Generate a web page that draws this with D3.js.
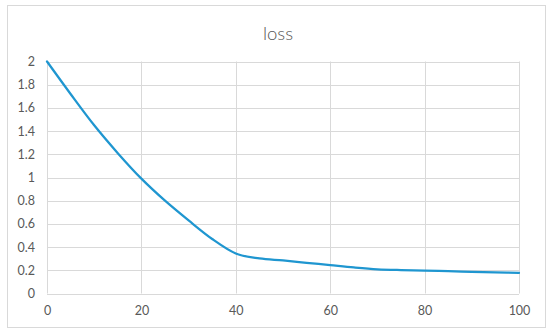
<!DOCTYPE html>
<html>
<head>
<meta charset="utf-8">
<script src="https://cdn.jsdelivr.net/npm/d3@7"></script>
<style>
  body { margin: 0; background: #fff; }
  text { font-family: Lato, "Open Sans", sans-serif; fill: #595959; }
</style>
</head>
<body>
<div id="chart"></div>
<script>
// loss values, every 5 epochs
const epochs = [0, 5, 10, 15, 20, 25, 30, 35, 40, 45, 50, 55, 60, 65, 70, 75, 80, 85, 90, 95, 100];
const loss = [2.0, 1.72, 1.45, 1.21, 0.99, 0.80, 0.63, 0.47, 0.345, 0.302, 0.285, 0.265, 0.245, 0.225, 0.209, 0.202, 0.198, 0.192, 0.187, 0.182, 0.177];
const xTicks = [0, 20, 40, 60, 80, 100];
const yTicks = [0, 0.2, 0.4, 0.6, 0.8, 1, 1.2, 1.4, 1.6, 1.8, 2];

const width = 550, height = 335;
const margin = { top: 61.5, right: 31, bottom: 41.5, left: 47 };

const svg = d3.select('#chart')
  .append('svg')
  .attr('width', width)
  .attr('height', height);

// chart area border
svg.append('rect')
  .attr('x', 7.5).attr('y', 5.5)
  .attr('width', 538).attr('height', 322)
  .attr('fill', '#fff')
  .attr('stroke', '#d9d9d9');

svg.append('text')
  .attr('x', 278).attr('y', 39.5)
  .attr('text-anchor', 'middle')
  .attr('font-size', '18.5px')
  .attr('font-weight', 300)
  .text('loss');

const x = d3.scaleLinear().domain([0, 100]).range([margin.left, width - margin.right]);
const y = d3.scaleLinear().domain([0, 2]).range([height - margin.bottom, margin.top]);

// gridlines
const grid = svg.append('g').attr('stroke', '#d9d9d9').attr('stroke-width', 1);
grid.selectAll('.h')
  .data(yTicks)
  .enter().append('line')
  .attr('x1', x(0)).attr('x2', x(100))
  .attr('y1', d => Math.round(y(d)) + 0.5)
  .attr('y2', d => Math.round(y(d)) + 0.5);
grid.selectAll('.v')
  .data(xTicks)
  .enter().append('line')
  .attr('y1', y(2)).attr('y2', y(0))
  .attr('x1', d => Math.round(x(d)) + 0.5)
  .attr('x2', d => Math.round(x(d)) + 0.5);

// axes (labels only, Excel style)
const xAxis = svg.append('g')
  .attr('transform', `translate(0,${y(0)})`)
  .call(d3.axisBottom(x).tickValues(xTicks).tickSize(0).tickPadding(13));
const yAxis = svg.append('g')
  .attr('transform', `translate(${x(0)},0)`)
  .call(d3.axisLeft(y).tickValues(yTicks).tickFormat(d3.format('')).tickSize(0).tickPadding(12));
[xAxis, yAxis].forEach(a => {
  a.select('.domain').remove();
  a.selectAll('text')
    .attr('font-family', 'Lato, "Open Sans", sans-serif')
    .attr('font-size', '12.5px')
    .attr('fill', '#595959');
});

const line = d3.line()
  .x((d, i) => x(epochs[i]))
  .y(d => y(d))
  .curve(d3.curveMonotoneX);

svg.append('path')
  .datum(loss)
  .attr('fill', 'none')
  .attr('stroke', '#1f96d0')
  .attr('stroke-width', 2.25)
  .attr('stroke-linecap', 'round')
  .attr('d', line);
</script>
</body>
</html>
